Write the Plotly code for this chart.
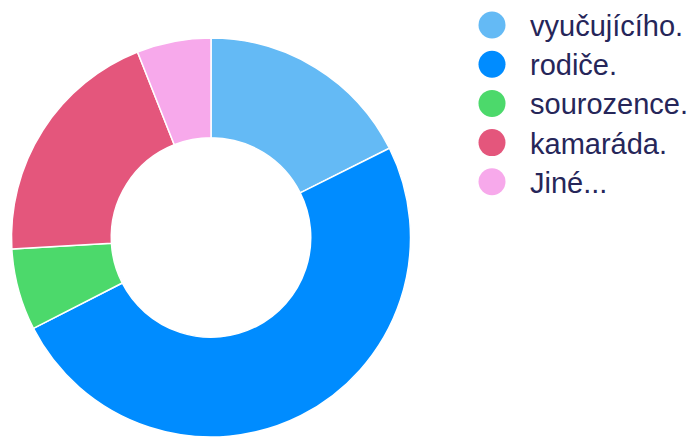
import plotly.graph_objects as go

categories = ["vyučujícího.", "rodiče.", "sourozence.", "kamaráda.", "Jiné..."]
values = [17.6, 49.8, 6.6, 19.9, 6.0]
colors = ["#64BAF5", "#008CFF", "#4CD96B", "#E4567C", "#F7A9EB"]

W, H = 691, 437
fig = go.Figure()

fig.add_trace(go.Pie(
    labels=categories,
    values=values,
    hole=0.5,
    sort=False,
    direction="clockwise",
    rotation=0,
    marker=dict(colors=colors, line=dict(color="white", width=1.5)),
    textinfo="none",
    hoverinfo="label+percent",
    showlegend=False,
    domain=dict(x=[11 / W, 411 / W], y=[0, 399 / H]),
))

# custom legend with circular markers
leg_x = 492
leg_y0 = 25
leg_dy = 39.2
ys = [leg_y0 + i * leg_dy for i in range(len(categories))]
fig.add_trace(go.Scatter(
    x=[leg_x] * len(categories),
    y=ys,
    mode="markers",
    marker=dict(size=27, color=colors, symbol="circle", line=dict(width=0)),
    hoverinfo="skip",
    showlegend=False,
))
for cat, y in zip(categories, ys):
    fig.add_annotation(
        x=528, y=y + 1, xref="x", yref="y", text=cat, showarrow=False,
        xanchor="left", yanchor="middle",
        font=dict(family="Liberation Sans, Arial, sans-serif", size=29, color="#262659"),
    )

fig.update_layout(
    width=W, height=H,
    margin=dict(l=0, r=0, t=0, b=0),
    paper_bgcolor="white", plot_bgcolor="rgba(0,0,0,0)",
    xaxis=dict(range=[0, W], visible=False, fixedrange=True),
    yaxis=dict(range=[H, 0], visible=False, fixedrange=True),
    showlegend=False,
)

fig.write_html(
    "out.html",
    config={"displayModeBar": False},
    post_script="document.body.style.margin='0';document.body.style.overflow='hidden';",
)
